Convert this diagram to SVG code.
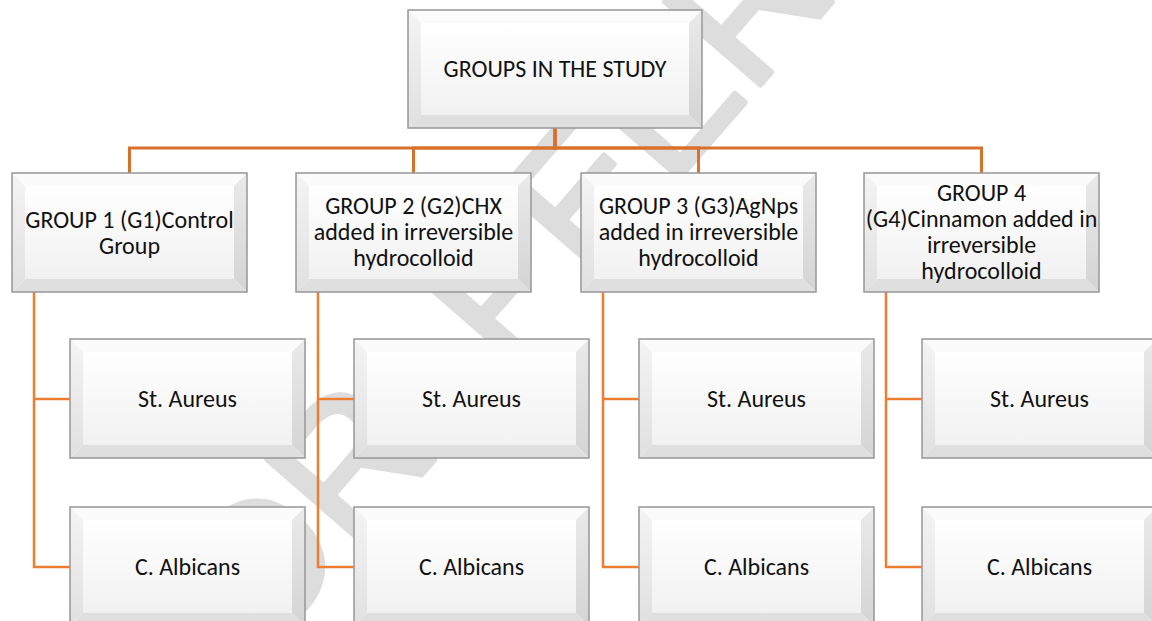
<svg xmlns="http://www.w3.org/2000/svg" xmlns:xlink="http://www.w3.org/1999/xlink" width="1152" height="621" viewBox="0 0 1152 621">
<style>
.wm{font-family:"Liberation Sans",Arial,sans-serif;font-size:185px;fill:#dddddd;stroke:#dddddd;stroke-width:5;stroke-linejoin:round}
.lbl{font-family:Carlito,Lato,"Open Sans",sans-serif;font-size:24px;fill:#111;text-anchor:middle}
.con{fill:none;stroke:#ED7D31;stroke-width:2.5}
.con2{fill:none;stroke:#D8712C;stroke-width:3}
.edge{fill:none;stroke:#979797;stroke-width:1.5}
</style>
<defs>
<linearGradient id="face" x1="0" y1="0" x2="0" y2="1">
<stop offset="0" stop-color="#ffffff"/><stop offset="1" stop-color="#f1f1f1"/>
</linearGradient>
<linearGradient id="lft" x1="0" y1="0" x2="0" y2="1">
<stop offset="0" stop-color="#f4f4f4"/><stop offset="1" stop-color="#e0e0e0"/>
</linearGradient>
<linearGradient id="rgt" x1="0" y1="0" x2="0" y2="1">
<stop offset="0" stop-color="#eaeaea"/><stop offset="1" stop-color="#d4d4d4"/>
</linearGradient>
<symbol id="bev" viewBox="0 0 235 119" width="235" height="119" overflow="visible">
<rect x="0" y="0" width="235" height="119" fill="#fff"/>
<polygon points="0,0 235,0 222,13 13,13" fill="#fbfbfb"/>
<polygon points="0,0 13,13 13,106 0,119" fill="url(#lft)"/>
<polygon points="235,0 235,119 222,106 222,13" fill="url(#rgt)"/>
<polygon points="0,119 13,106 222,106 235,119" fill="#dfdfdf"/>
<rect x="13" y="13" width="209" height="93" fill="url(#face)"/>
<rect class="edge" x="0" y="0" width="235" height="119"/>
</symbol>
<symbol id="bevTop" viewBox="0 0 294 118" width="294" height="118" overflow="visible">
<rect x="0" y="0" width="294" height="118" fill="#fff"/>
<polygon points="0,0 294,0 281,13 13,13" fill="#fbfbfb"/>
<polygon points="0,0 13,13 13,105 0,118" fill="url(#lft)"/>
<polygon points="294,0 294,118 281,105 281,13" fill="url(#rgt)"/>
<polygon points="0,118 13,105 281,105 294,118" fill="#dfdfdf"/>
<rect x="13" y="13" width="268" height="92" fill="url(#face)"/>
<rect class="edge" x="0" y="0" width="294" height="118"/>
</symbol>
</defs>
<rect width="1152" height="621" fill="#fff"/>
<text class="wm" transform="translate(265,655) rotate(-49)">DR. PEER RE</text>
<g id="connectors">
<path class="con2" d="M555,128 V148 H129.5 V173"/>
<path class="con2" d="M555,128 V148 H413.5 V173"/>
<path class="con2" d="M555,128 V148 H698.5 V173"/>
<path class="con2" d="M555,128 V148 H981.5 V173"/>
<path class="con" d="M34,291 V567 H70 M34,399 H70"/>
<path class="con" d="M318,291 V567 H354 M318,399 H354"/>
<path class="con" d="M603,291 V567 H639 M603,399 H639"/>
<path class="con" d="M886,291 V567 H922 M886,399 H922"/>
</g>
<g id="root"><use xlink:href="#bevTop" x="408" y="10"/><text class="lbl" x="555" y="77">GROUPS IN THE STUDY</text></g>
<g id="g1"><use xlink:href="#bev" x="12" y="173"/><text class="lbl" x="129.5" y="228">GROUP 1 (G1)Control<tspan x="129.5" dy="26">Group</tspan></text></g>
<g id="g2"><use xlink:href="#bev" x="296" y="173"/><text class="lbl" x="413.5" y="214">GROUP 2 (G2)CHX<tspan x="413.5" dy="26">added in irreversible</tspan><tspan x="413.5" dy="26">hydrocolloid</tspan></text></g>
<g id="g3"><use xlink:href="#bev" x="581" y="173"/><text class="lbl" x="698.5" y="214">GROUP 3 (G3)AgNps<tspan x="698.5" dy="26">added in irreversible</tspan><tspan x="698.5" dy="26">hydrocolloid</tspan></text></g>
<g id="g4"><use xlink:href="#bev" x="864" y="173"/><text class="lbl" x="981.5" y="201">GROUP 4<tspan x="981.5" dy="26">(G4)Cinnamon added in</tspan><tspan x="981.5" dy="26">irreversible</tspan><tspan x="981.5" dy="26">hydrocolloid</tspan></text></g>
<g id="g1a"><use xlink:href="#bev" x="70" y="339"/><text class="lbl" x="187.5" y="407">St. Aureus</text></g>
<g id="g1b"><use xlink:href="#bev" x="70" y="507"/><text class="lbl" x="187.5" y="575">C. Albicans</text></g>
<g id="g2a"><use xlink:href="#bev" x="354" y="339"/><text class="lbl" x="471.5" y="407">St. Aureus</text></g>
<g id="g2b"><use xlink:href="#bev" x="354" y="507"/><text class="lbl" x="471.5" y="575">C. Albicans</text></g>
<g id="g3a"><use xlink:href="#bev" x="639" y="339"/><text class="lbl" x="756.5" y="407">St. Aureus</text></g>
<g id="g3b"><use xlink:href="#bev" x="639" y="507"/><text class="lbl" x="756.5" y="575">C. Albicans</text></g>
<g id="g4a"><use xlink:href="#bev" x="922" y="339"/><text class="lbl" x="1039.5" y="407">St. Aureus</text></g>
<g id="g4b"><use xlink:href="#bev" x="922" y="507"/><text class="lbl" x="1039.5" y="575">C. Albicans</text></g>
</svg>
